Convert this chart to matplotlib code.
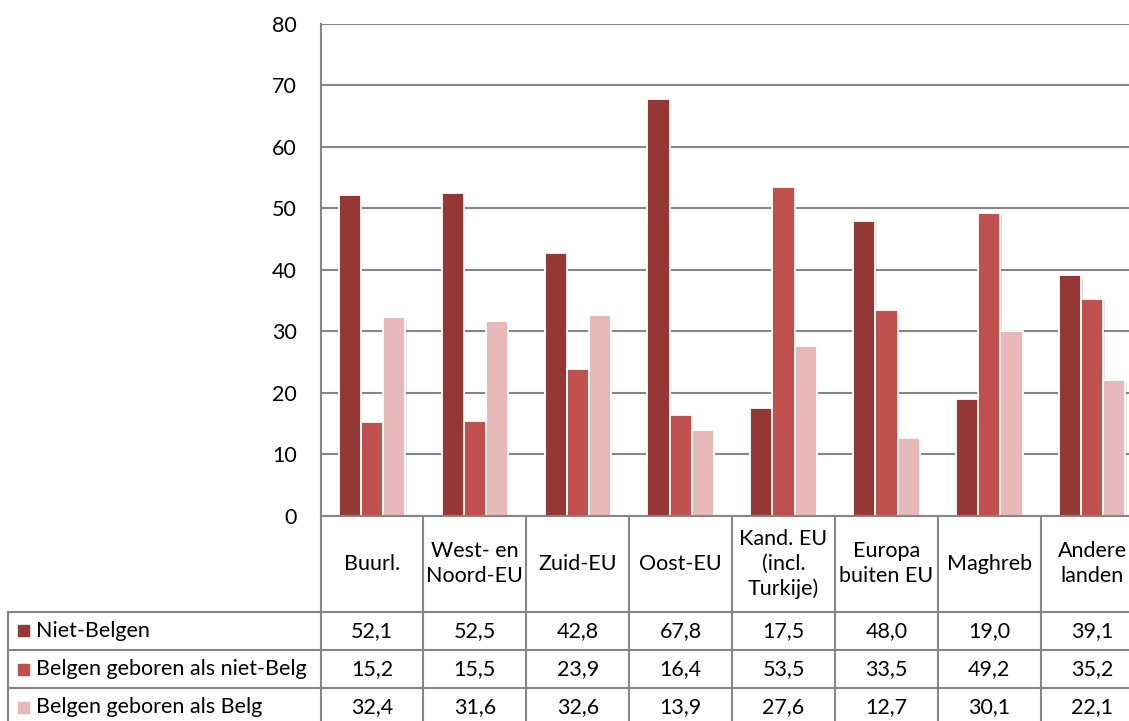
import numpy as np
import matplotlib
matplotlib.use('Agg')
import matplotlib.pyplot as plt
from matplotlib import patheffects as pe

plt.rcParams['font.family'] = ['Lato', 'DejaVu Sans']

# data
categories = ['Buurl.', 'West- en\nNoord-EU', 'Zuid-EU', 'Oost-EU',
              'Kand. EU\n(incl.\nTurkije)', 'Europa\nbuiten EU', 'Maghreb',
              'Andere\nlanden']
series_names = ['Niet-Belgen', 'Belgen geboren als niet-Belg',
                'Belgen geboren als Belg']
niet_belgen = [52.1, 52.5, 42.8, 67.8, 17.5, 48.0, 19.0, 39.1]
belgen_niet_belg = [15.2, 15.5, 23.9, 16.4, 53.5, 33.5, 49.2, 35.2]
belgen_belg = [32.4, 31.6, 32.6, 13.9, 27.6, 12.7, 30.1, 22.1]
yticks = [0, 10, 20, 30, 40, 50, 60, 70, 80]

series = [niet_belgen, belgen_niet_belg, belgen_belg]
colors = ['#953735', '#C0504D', '#E6B9B8']
grid_col = '#868686'
fs = 15.5

W, H = 1129, 721
fig = plt.figure(figsize=(W / 100, H / 100), dpi=100)

def fx(px):
    return px / W

def fy(py):
    return 1 - py / H

# layout in pixels
x0 = 320.5
cw = 102.9
y0 = 516
ytop = 23.5
ncat = len(categories)

ax = fig.add_axes([fx(x0), fy(y0), ncat * cw / W, (y0 - ytop) / H])
x = np.arange(ncat)
bw = 0.215
shadow = [pe.SimplePatchShadow(offset=(1, -1), alpha=0.12), pe.Normal()]
for i, (vals, col) in enumerate(zip(series, colors)):
    bars = ax.bar(x + (i - 1) * bw, vals, width=bw, color=col,
                  edgecolor='white', linewidth=1.3, zorder=3)
    for b in bars:
        b.set_path_effects(shadow)

ax.set_xlim(-0.5, ncat - 0.5)
ax.set_ylim(0, 80)
ax.set_yticks(yticks)
ax.set_xticks([])
ax.yaxis.grid(True, color=grid_col, linewidth=1.5, zorder=0)
ax.tick_params(axis='y', length=0, pad=17, labelsize=fs)
for s in ['top', 'right', 'bottom']:
    ax.spines[s].set_visible(False)
ax.spines['left'].set_color(grid_col)
ax.spines['left'].set_linewidth(1.5)

# data table below the chart
head_bot = 611.7
row_h = 38.3
rows_y = [head_bot + k * row_h for k in range(4)]
tab_left = 8
x_end = x0 + ncat * cw
lw = 1.5

def hline(py, xa, xb):
    fig.add_artist(plt.Line2D([fx(xa), fx(xb)], [fy(py), fy(py)],
                              color=grid_col, linewidth=lw))

def vline(px, ya, yb):
    fig.add_artist(plt.Line2D([fx(px), fx(px)], [fy(ya), fy(yb)],
                              color=grid_col, linewidth=lw))

hline(y0, x0, x_end)
for py in rows_y:
    hline(py, tab_left, x_end)
for k in range(ncat + 1):
    vline(x0 + k * cw, y0, rows_y[-1])
vline(tab_left, head_bot, rows_y[-1])

for k, cat in enumerate(categories):
    fig.text(fx(x0 + (k + 0.5) * cw), fy((y0 + head_bot) / 2), cat,
             ha='center', va='center', fontsize=fs, linespacing=1.3,
             color='black')

for r, (name, vals, col) in enumerate(zip(series_names, series, colors)):
    cy = fy(rows_y[r] + row_h / 2)
    fig.add_artist(plt.Rectangle((fx(18), cy - 5.5 / H), 11 / W, 11 / H,
                                 color=col, transform=fig.transFigure))
    fig.text(fx(36), cy, name, ha='left', va='center', fontsize=fs)
    for k, v in enumerate(vals):
        fig.text(fx(x0 + (k + 0.5) * cw), cy, f'{v:.1f}'.replace('.', ','),
                 ha='center', va='center', fontsize=fs)

fig.savefig('out.png', dpi=100)
